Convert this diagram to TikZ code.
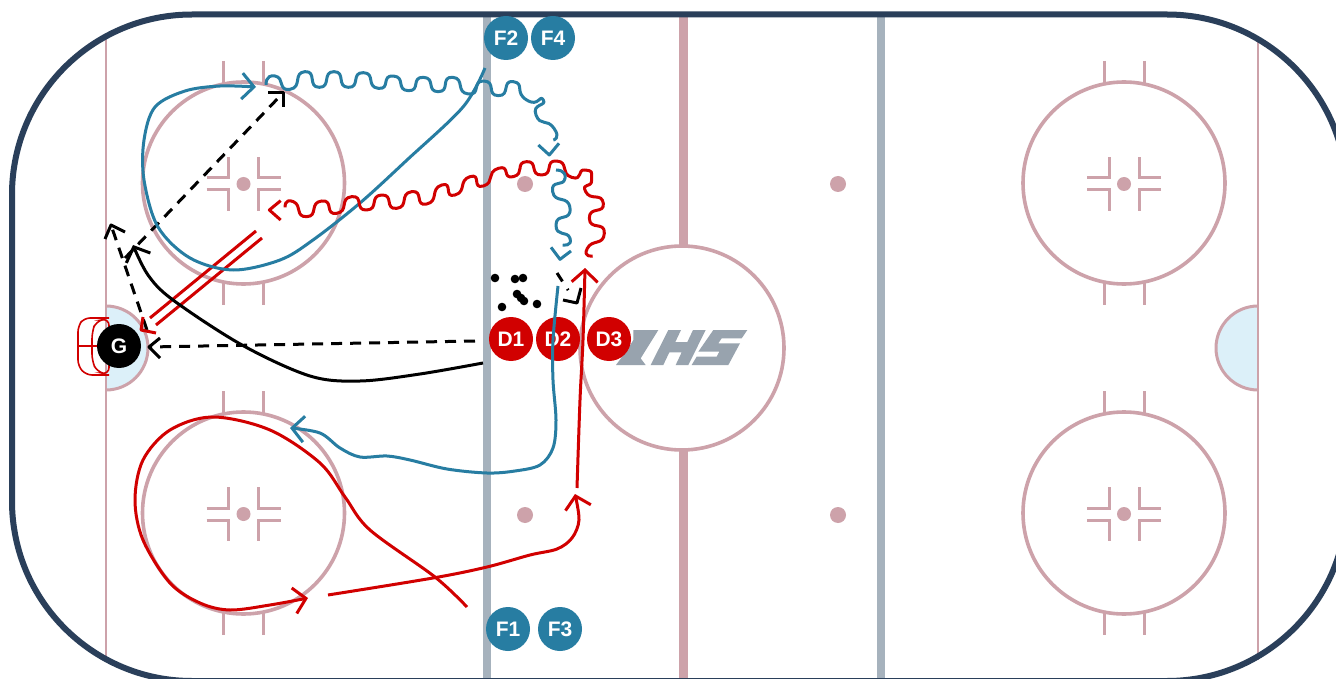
\documentclass[tikz,border=0pt]{standalone}
\usepackage{fontspec}
\setmainfont{Liberation Sans}
\usetikzlibrary{arrows.meta}
\definecolor{rinkc}{HTML}{2A3F5A}
\definecolor{pinkc}{HTML}{CDA2AA}
\definecolor{bluel}{HTML}{A6B2BD}
\definecolor{logoc}{HTML}{98A3AE}
\definecolor{tblue}{HTML}{277DA2}
\definecolor{tred}{HTML}{D10000}
\definecolor{creasec}{HTML}{DCF0F9}
\tikzset{
  mk/.style={draw=pinkc,line width=3pt},
  ring/.style={draw=pinkc,line width=3.6pt},
  player/.style={circle,minimum size=44pt,inner sep=0pt,text=white,font=\fontsize{21}{23}\selectfont\bfseries},
  fwd/.style={player,fill=tblue},
  def/.style={player,fill=tred},
  goalie/.style={player,fill=black},
  bluepath/.style={draw=tblue,line width=3pt,line join=round},
  redpath/.style={draw=tred,line width=3pt,line join=round},
  blackpath/.style={draw=black,line width=3pt,line join=round},
  dashpath/.style={blackpath,dash pattern=on 11pt off 8pt},
  curvy/.style={smooth,tension=0.55},
  wavy/.style={smooth,tension=1.5},
  tip/.style={-{Straight Barb[length=12pt,width=26pt,line width=3pt]}},
  zA/.style={shift={(130,0)},x=.33333pt,y=-.33333pt},
  zL/.style={shift={(600,320)},x=.33333pt,y=-.33333pt},
}
\begin{document}
\begin{tikzpicture}[x=1pt,y=-1pt]
\clip (0,0) rectangle (1336,679);
\fill[white] (0,0) rectangle (1336,679);
% creases
\filldraw[fill=creasec,draw=pinkc,line width=3pt] (106,306) arc[start angle=90,end angle=-90,radius=42,y radius=-42];
\filldraw[fill=creasec,draw=pinkc,line width=3pt] (1258,306) arc[start angle=90,end angle=270,radius=42,y radius=-42];
% lines
\draw[pinkc,line width=2.5pt] (106,37)--(106,660) (1258,37)--(1258,660);
\draw[bluel,line width=8pt] (487,14)--(487,679) (881,14)--(881,679);
\draw[pinkc,line width=9pt] (683,14)--(683,245) (683,450)--(683,679);
\draw[ring] (682,348) circle[radius=102];
% faceoff circles
\foreach \cx/\cy in {243.5/183,243.5/513,1124/183,1124/513}{
  \draw[ring] (\cx,\cy) circle[radius=101];
  \fill[pinkc] (\cx,\cy+1) circle[radius=7];
  \draw[mk] (\cx-20,\cy-122)--(\cx-20,\cy-100) (\cx+20,\cy-122)--(\cx+20,\cy-100)
            (\cx-20,\cy+100)--(\cx-20,\cy+122) (\cx+20,\cy+100)--(\cx+20,\cy+122);
  \draw[mk] (\cx-37,\cy-5)--(\cx-15,\cy-5)--(\cx-15,\cy-26)
            (\cx+37,\cy-5)--(\cx+15,\cy-5)--(\cx+15,\cy-26)
            (\cx-37,\cy+7)--(\cx-15,\cy+7)--(\cx-15,\cy+28)
            (\cx+37,\cy+7)--(\cx+15,\cy+7)--(\cx+15,\cy+28);
}
\foreach \dx/\dy in {525/184,838/184,525/515,838/515}{
  \fill[pinkc] (\dx,\dy) circle[radius=8];
}
% rink board
\draw[rinkc,line width=6pt,rounded corners=180pt] (12,14.5) rectangle (1347,681);
% logo
\begin{scope}[zL]
  \fill[logoc] (100,30)--(175,30)--(122,115)--(137,135)--(48,135)--(85,85)--(100,60)--cycle;
  \fill[logoc] (205,30)--(243,30)--(226,66)--(262,66)--(279,30)--(317,30)--(265,135)--(227,135)--(245,97)--(208,97)--(190,135)--(152,135)--cycle;
  \fill[logoc] (340,30)--(442,30)--(425,55)--(365,55)--(355,70)--(420,70)--(385,135)--(275,135)--(290,110)--(350,110)--(358,95)--(295,95)--cycle;
\end{scope}
% goal net
\draw[tred,line width=1.6pt,rounded corners=6pt] (109,318)--(84,318)--(78,326)--(78,366)--(86,375)--(109,375);
\draw[tred,line width=1.6pt,rounded corners=7pt] (109,318.5)--(96,321)--(92,332)--(92,361)--(97,372)--(109,374.5)--cycle;
\draw[tred,line width=1.6pt] (78,346)--(97,346);
% players
\node[fwd] (F2) at (506,38) {F2};
\node[fwd] (F4) at (553,38) {F4};
\node[fwd] (F1) at (508,629) {F1};
\node[fwd] (F3) at (560,629) {F3};
\node[def] (D1) at (511,339) {D1};
\node[def] (D2) at (558,339) {D2};
\node[def] (D3) at (609,339) {D3};
% named free ends
\coordinate (gA) at (149,347);
\coordinate (tA) at (475,341);
\coordinate (bA) at (147,330);
\coordinate (bB) at (111,225);
\coordinate (cA) at (125,258);
\coordinate (cB) at (283,93);
\coordinate (p1a) at (256,231);
\coordinate (p1b) at (150,318);
\coordinate (p2a) at (262,238);
\coordinate (p2b) at (156,325);
% pucks
\foreach \px/\py in {495/278,515/279,523/278,517/294,521/298,524/301,502/307,537/304}{
  \fill[black] (\px,\py) circle[radius=4.3];
}
% dashed passes
\draw[dashpath] (tA)--(gA);
\draw[blackpath] (160,338)--(gA)--(160,358);
\draw[dashpath] (bA)--(bB);
\draw[blackpath] (105,239)--(bB)--(125,232);
\draw[dashpath] (cA)--(cB);
\draw[blackpath] (268,93)--(cB)--(283,107);
\draw[blackpath,dash pattern=on 10pt off 9pt on 1.5pt off 40pt] (557,273)--(570,293);
\draw[blackpath] (563,300)--(577,303)--(581,288);
% double red pass
\draw[redpath] (p1a)--(p1b) (p2a)--(p2b);
\draw[redpath] (143,317)--(141,330)--(156,333);
% skating paths
\draw[bluepath,tip] plot[curvy] coordinates {(485,68) (463,107) (407,160) (360,203) (313,240) (280,260) (233,270) (190,258) (158,227) (144,180) (144,140) (155,107) (185,91) (220,86) (256,87)};
\draw[blackpath,tip] plot[curvy] coordinates {(483,363) (420,374) (360,381) (310,376) (242,345) (173,300) (148,275) (133,245)};
\draw[bluepath,tip] plot[curvy] coordinates {(558,286) (553,340) (553,380) (556,420) (553,448) (540,465) (515,471) (487,473) (447,469) (410,460) (387,456) (360,457) (340,448) (320,433) (290,428)};
\draw[redpath,tip] plot[curvy] coordinates {(577,488) (580,400) (583,340) (585,268)};
\draw[redpath,tip] plot[curvy] coordinates {(328,595) (433,578) (487,567) (530,555) (557,549) (572,538) (579,520) (575,494)};
\draw[redpath,tip] plot[curvy] coordinates {(467,607) (435,577) (370,530) (345,497) (320,463) (270,430) (213,417) (170,430) (143,460) (135,500) (143,540) (170,583) (200,603) (230,610) (270,605) (308,598)};
% wavy paths
\begin{scope}[zA]
  \draw[bluepath] plot[wavy] coordinates {(408,255) (435,228) (480,268) (525,215) (568,262) (612,215) (655,262) (700,218) (745,265) (790,228) (835,272) (880,232) (925,275) (968,232) (1015,282) (1062,243) (1105,287) (1150,245) (1190,300) (1240,300) (1218,345) (1272,385) (1270,420)};
  \draw[bluepath] (1225,435)--(1258,465)--(1287,430);
  \draw[redpath] (452,602)--(418,630)--(452,660);
  \draw[redpath] plot[wavy] coordinates {(465,622) (490,605) (530,650) (575,603) (620,640) (665,590) (710,630) (755,585) (800,625) (845,575) (890,612) (935,555) (975,585) (1020,530) (1060,558) (1105,505) (1150,530) (1190,485) (1235,525) (1280,483) (1325,532) (1365,510) (1385,540) (1367,575) (1420,610) (1378,655) (1423,700) (1372,745) (1388,768)};
  \draw[bluepath] plot[wavy] coordinates {(1278,510) (1305,535) (1268,575) (1320,625) (1278,675) (1320,715) (1298,735)};
  \draw[bluepath] (1263,742)--(1290,778)--(1323,753);
\end{scope}
\node[goalie] (G) at (119,346) {G};
\end{tikzpicture}
\end{document}
